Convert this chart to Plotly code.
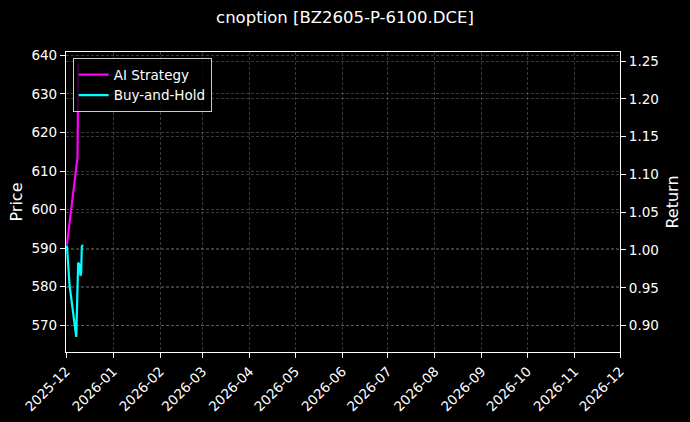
import plotly.graph_objects as go

# equity curves (normalised)
ai_times = ["2025-12-01 15:00", "2025-12-07 21:00", "2025-12-08 14:00",
            "2025-12-08 22:00", "2025-12-09 02:00"]
ai_values = [1.007, 1.109, 1.1225, 1.20, 1.246]

bh_times = ["2025-12-01 15:00", "2025-12-03 07:00", "2025-12-07 18:00",
            "2025-12-09 00:00", "2025-12-09 20:00", "2025-12-10 13:00",
            "2025-12-11 00:00", "2025-12-11 10:00", "2025-12-12 02:00"]
bh_values = [1.006, 0.954, 0.885, 0.983, 0.981, 0.966, 0.970, 1.0046, 1.007]

price_ticks = [570, 580, 590, 600, 610, 620, 630, 640]
title = "cnoption [BZ2605-P-6100.DCE]"

FONT = "DejaVu Sans"
grid = "rgba(140,140,140,0.4)"
axis_common = dict(showline=True, linecolor="white", linewidth=1.2,
                   ticks="outside", ticklen=5, tickcolor="white",
                   showgrid=True, gridcolor=grid, griddash="3px,2px", gridwidth=0.7,
                   zeroline=False, automargin=False)

fig = go.Figure()
# empty trace so the left price axis gets drawn
fig.add_trace(go.Scatter(x=[], y=[], mode="lines", showlegend=False, hoverinfo="skip"))
fig.add_trace(go.Scatter(x=ai_times, y=ai_values, mode="lines", name="AI Strategy",
                         line=dict(color="#ff00ff", width=2.2), yaxis="y2"))
fig.add_trace(go.Scatter(x=bh_times, y=bh_values, mode="lines", name="Buy-and-Hold",
                         line=dict(color="#00ffff", width=2.2), yaxis="y2"))

fig.update_layout(
    width=690, height=422,
    paper_bgcolor="black", plot_bgcolor="black",
    font=dict(family=FONT, size=13.5, color="white"),
    margin=dict(l=66, r=70, t=52, b=70),
    title=dict(text=title, x=0.5, xanchor="center", y=0.972, yanchor="top",
               font=dict(size=16.5, color="white")),
    showlegend=True,
    legend=dict(x=0.012, y=0.979, xanchor="left", yanchor="top",
                bgcolor="rgba(0,0,0,0.8)", bordercolor="#cccccc", borderwidth=1,
                font=dict(size=13.5, color="white"), tracegroupgap=0),
    xaxis=dict(type="date", range=["2025-12-01", "2026-12-01"],
               tick0="2025-12-01", dtick="M1", tickformat="%Y-%m", tickangle=-45,
               mirror=True, **axis_common),
    yaxis=dict(title=dict(text="Price", standoff=4), range=[563.0, 640.9],
               tickvals=price_ticks, **axis_common),
    yaxis2=dict(title=dict(text="Return", standoff=8), range=[0.865, 1.262],
                overlaying="y", side="right", dtick=0.05, tick0=0.9, tickformat=".2f",
                **axis_common),
)

fig.write_html("out.html", config={"displayModeBar": False},
               post_script="document.body.style.margin='0';document.body.style.background='black';")
